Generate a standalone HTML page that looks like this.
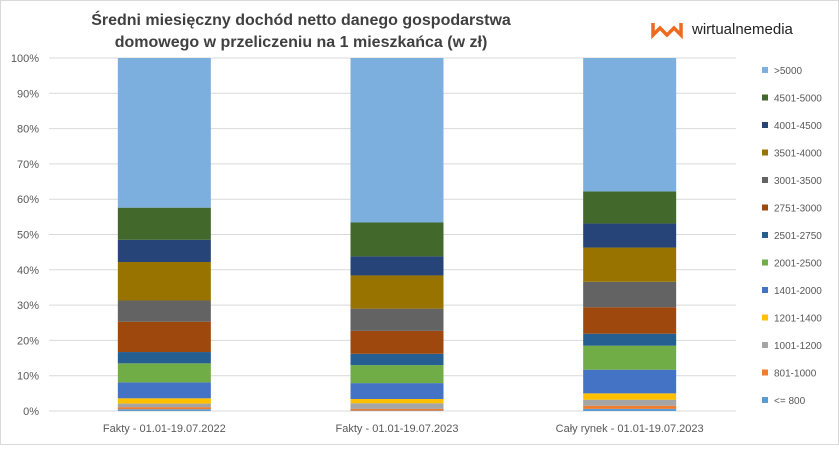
<!DOCTYPE html>
<html><head><meta charset="utf-8"><style>
body{margin:0;background:#fff;font-family:"Liberation Sans",sans-serif}
#wrap{position:relative;width:837px;height:443px;border:1px solid #d9d9d9;background:#fff}
</style></head><body>
<div id="wrap">
<svg id="chart" width="837" height="443">
<text x="300" y="24" text-anchor="middle" font-size="16" font-weight="bold" fill="#404040">Średni miesięczny dochód netto danego gospodarstwa</text>
<text x="300" y="46" text-anchor="middle" font-size="16" font-weight="bold" fill="#404040">domowego w przeliczeniu na 1 mieszkańca (w zł)</text>
<g>
<path d="M652 22 L652 34 L659 27 L666 34 L673 27 L680 34 L680 22" fill="none" stroke="#ee6a1f" stroke-width="3.5"/>
<text x="691" y="33" font-size="15" fill="#222">wirtualnemedia</text>
</g>
<g id="grid"></g><g id="bars"></g><g id="legend"></g>
</svg>
</div>
<script>
const categories=["Fakty - 01.01-19.07.2022","Fakty - 01.01-19.07.2023","Cały rynek - 01.01-19.07.2023"];
const seriesNames=["<= 800","801-1000","1001-1200","1201-1400","1401-2000","2001-2500","2501-2750","2751-3000","3001-3500","3501-4000","4001-4500","4501-5000",">5000"];
const bar2022=[0.5,0.6,1.0,1.5,4.5,5.4,3.2,8.6,6.0,10.9,6.3,9.1,42.4];
const bar2023=[0.1,0.5,1.6,1.2,4.5,5.1,3.2,6.5,6.3,9.4,5.4,9.6,46.6];
const barMarket=[0.6,0.9,1.7,1.8,6.7,6.8,3.4,7.5,7.2,9.7,6.8,9.1,37.8];
const yTicks=[0,10,20,30,40,50,60,70,80,90,100];
const colors=["#5b9bd5","#ed7d31","#a5a5a5","#ffc000","#4472c4","#70ad47","#255e91","#9e480e","#636363","#997300","#264478","#43682b","#7cafdd"];
const series=[bar2022,bar2023,barMarket];
const NS="http://www.w3.org/2000/svg";
const y0=410,y100=57,xL=47,xR=745,gridR=735,barW=93;
const yS=v=>y0-(y0-y100)*v/100;
const xC=i=>xL+(xR-xL)*(i+0.5)/categories.length;
function mk(t,a,p){const e=document.createElementNS(NS,t);for(const k in a)e.setAttribute(k,a[k]);p.appendChild(e);return e;}
const grid=document.getElementById('grid');
yTicks.forEach(t=>{
 const l=mk('line',{x1:48,x2:gridR,y1:yS(t),y2:yS(t),stroke:'#d9d9d9','stroke-width':1},grid);
 
 
 const tx=mk('text',{x:38,y:yS(t)+4,'text-anchor':'end','font-size':11,fill:'#595959'},grid);
 tx.textContent=t+'%';
 
 
});
const bars=document.getElementById('bars');
series.forEach((vals,i)=>{
 let cum=0;
 vals.forEach((v,j)=>{
  const r=mk('rect',{x:xC(i)-barW/2,y:yS(cum+v),width:barW,height:yS(cum)-yS(cum+v),fill:colors[j]},bars);
  
  
  cum+=v;
 });
 const tx=mk('text',{x:xC(i),y:431,'text-anchor':'middle','font-size':11,fill:'#595959'},bars);
 tx.textContent=categories[i];
 
 
});
const lg=document.getElementById('legend');
for(let k=0;k<seriesNames.length;k++){
 const idx=seriesNames.length-1-k;
 const y=69+k*27.5;
 const r=mk('rect',{x:761,y:y-3,width:6,height:6,fill:colors[idx]},lg);
 
 
 const tx=mk('text',{x:773,y:y+4,'font-size':10,fill:'#595959'},lg);
 tx.textContent=seriesNames[idx];
 
 
}
</script>
</body></html>
